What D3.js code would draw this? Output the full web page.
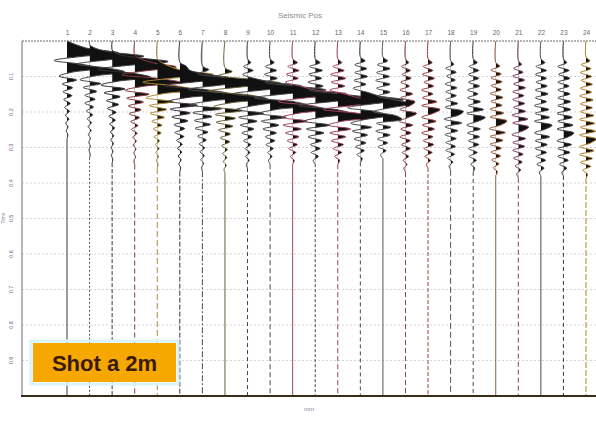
<!DOCTYPE html>
<html>
<head>
<meta charset="utf-8">
<script src="https://cdn.jsdelivr.net/npm/d3@7"></script>
<style>
  html, body { margin: 0; background: #fff; }
  svg { display: block; }
</style>
</head>
<body>
<div id="chart"></div>
<script>
// ---- data ----
const traceLabels = ['1','2','3','4','5','6','7','8','9','10','11','12','13','14','15','16','17','18','19','20','21','22','23','24'];
const timeTicks = [0.1, 0.2, 0.3, 0.4, 0.5, 0.6, 0.7, 0.8, 0.9];
const timeLabels = ['0.1','0.2','0.3','0.4','0.5','0.6','0.7','0.8','0.9'];
const DT = 0.011; // seconds between samples

// onset time (s) for each trace
const onsets = [0.0, 0.01, 0.025, 0.04, 0.05, 0.06, 0.07, 0.075, 0.05, 0.05, 0.05, 0.05,
  0.05, 0.045, 0.045, 0.05, 0.05, 0.055, 0.05, 0.06, 0.055, 0.05, 0.05, 0.045];

// amplitude samples per trace (units of ~16 px)
const traces = [
  [0, 0.6, 1.4, 3.2, 0.8, -0.8, 1.0, 1.9, 0.3, -0.5, 0.6, -0.3, 0.35, -0.25, 0.3, -0.2, 0.2, -0.15, 0.15, -0.1, 0.12, -0.08, 0.06, -0.05, 0.05, 0],
  [0, 0.4, 1.5, 3.4, 1.0, -0.8, 1.1, 2.2, 0.4, -0.6, 0.7, -0.4, 0.45, -0.3, 0.35, -0.3, 0.25, -0.2, 0.2, -0.15, 0.12, -0.1, 0.1, -0.08, 0.06, -0.05, 0.05, -0.04, 0.04, 0],
  [0, 0.3, 1.6, 3.5, 0.9, -0.9, 1.3, 2.4, 0.4, -0.7, 0.8, -0.5, 0.5, -0.35, 0.4, -0.3, 0.25, -0.2, 0.2, -0.15, 0.15, -0.1, 0.1, -0.08, 0.08, -0.06, 0.05, -0.05, 0.04, 0],
  [0, 0.4, 1.2, 2.6, 0.7, -0.8, 1.6, 2.9, 0.5, -0.6, 0.9, -0.5, 0.55, -0.4, 0.4, -0.35, 0.3, -0.25, 0.2, -0.2, 0.15, -0.12, 0.1, -0.1, 0.08, -0.06, 0.06, -0.05, 0],
  [0, 0.3, 0.8, 1.6, 3.5, 0.9, -0.9, 1.3, 2.3, 0.3, -0.7, 1.0, -0.5, 0.6, -0.45, 0.45, -0.35, 0.3, -0.25, 0.25, -0.2, 0.15, -0.12, 0.12, -0.1, 0.08, -0.06, 0.05, 0],
  [0, 0.4, 0.6, 1.6, 3.1, 1.0, -1.0, 1.6, 3.0, 0.5, -0.7, 1.1, -0.6, 0.65, -0.5, 0.5, -0.35, 0.3, -0.3, 0.25, -0.2, 0.15, -0.15, 0.12, -0.1, 0.08, -0.06, 0.05, 0],
  [0, 0.4, -0.3, 1.4, 2.8, 1.0, -0.9, 1.5, 2.6, 0.5, -0.8, 1.2, -0.6, 0.6, -0.5, 0.5, -0.45, 0.35, -0.3, 0.25, -0.2, 0.15, -0.15, 0.12, -0.1, 0.08, -0.06, 0],
  [0, 0.45, -0.4, 1.7, 3.5, 0.9, -1.0, 1.5, 2.6, 0.4, -0.7, 1.1, -0.6, 0.65, -0.55, 0.5, -0.4, 0.35, -0.3, 0.3, -0.2, 0.15, -0.15, 0.12, -0.1, 0.08, -0.06, 0],
  [0, 0.2, -0.25, 0.35, -0.3, 0.4, 1.5, 3.4, 1.0, -0.9, 1.0, 1.6, 0.4, -0.7, 1.0, -0.55, 0.6, -0.45, 0.4, -0.35, 0.3, -0.25, 0.2, -0.15, 0.15, -0.12, 0.1, -0.08, 0],
  [0, 0.25, -0.3, 0.4, -0.35, 0.45, -0.3, 1.6, 3.5, 1.0, -1.0, 1.5, 2.4, 0.4, -0.7, 1.0, -0.55, 0.55, -0.45, 0.4, -0.3, 0.3, -0.25, 0.2, -0.15, 0.12, -0.1, 0],
  [0, 0.3, -0.3, 0.4, -0.4, 0.35, -0.45, 0.45, 1.4, 3.4, 0.9, -0.9, 1.2, 2.0, 0.3, -0.7, 0.9, -0.6, 0.55, -0.45, 0.4, -0.35, 0.3, -0.25, 0.2, -0.15, 0.1, 0],
  [0, 0.3, -0.35, 0.45, -0.4, 0.4, -0.45, 0.5, -0.4, 1.5, 3.3, 1.0, -1.0, 1.3, 2.2, 0.4, -0.7, 0.9, -0.55, 0.55, -0.45, 0.4, -0.3, 0.3, -0.25, 0.2, -0.12, 0],
  [0, 0.25, -0.3, 0.4, -0.45, 0.5, -0.4, 0.45, -0.5, 0.4, 1.3, 2.8, 0.9, -0.9, 1.3, 2.4, 0.3, -0.6, 0.8, -0.5, 0.5, -0.4, 0.35, -0.3, 0.25, -0.2, 0.12, 0],
  [0, 0.3, -0.35, 0.4, -0.35, 0.45, -0.4, 0.35, -0.45, 0.4, 1.2, 2.7, 0.8, -0.8, 1.0, 1.7, 0.3, -0.6, 0.7, -0.5, 0.45, -0.4, 0.35, -0.3, 0.25, -0.2, 0.12, 0],
  [0, 0.3, -0.35, 0.45, -0.4, 0.4, -0.45, 0.45, -0.4, 0.45, -0.35, 0.8, 1.8, 0.5, -0.6, 0.8, 1.2, -0.4, 0.5, -0.45, 0.45, -0.35, 0.3, -0.3, 0.2, -0.15, 0],
  [0, 0.2, -0.25, 0.3, -0.2, 0.35, -0.3, 0.25, -0.35, 0.45, -0.3, 0.6, 0.3, -0.35, 0.7, 0.2, -0.4, 0.45, -0.3, 0.35, -0.35, 0.3, -0.25, 0.3, -0.2, 0.2, -0.15, 0.1, -0.1, 0],
  [0, 0.25, -0.3, 0.3, -0.35, 0.4, -0.25, 0.35, -0.4, 0.3, -0.35, 0.55, -0.4, 0.75, 0.3, -0.4, 0.5, -0.35, 0.4, -0.4, 0.3, -0.3, 0.35, -0.25, 0.25, -0.2, 0.15, -0.1, 0],
  [0, 0.2, -0.3, 0.35, -0.25, 0.3, -0.35, 0.4, -0.3, 0.35, -0.3, 0.45, -0.35, 0.8, 0.5, -0.4, 0.7, -0.35, 0.45, -0.35, 0.35, -0.3, 0.3, -0.3, 0.25, -0.2, 0.15, -0.1, 0],
  [0, 0.25, -0.25, 0.35, -0.3, 0.35, -0.3, 0.4, -0.35, 0.3, -0.35, 0.45, -0.3, 0.65, -0.4, 0.75, 0.3, -0.4, 0.45, -0.35, 0.4, -0.3, 0.35, -0.3, 0.25, -0.25, 0.2, -0.15, 0.1, 0],
  [0, 0.25, -0.3, 0.35, -0.3, 0.4, -0.3, 0.35, -0.35, 0.45, -0.3, 0.4, -0.35, 0.5, -0.35, 0.7, 0.35, -0.4, 0.6, -0.35, 0.45, -0.35, 0.35, -0.3, 0.3, -0.25, 0.2, -0.15, 0.1, 0],
  [0, 0.2, -0.3, 0.3, -0.35, 0.4, -0.3, 0.45, -0.35, 0.35, -0.35, 0.4, -0.3, 0.45, -0.4, 0.6, -0.35, 0.65, 0.3, -0.4, 0.45, -0.35, 0.4, -0.35, 0.3, -0.3, 0.25, -0.2, 0.15, -0.1, 0],
  [0, 0.25, -0.3, 0.35, -0.35, 0.35, -0.3, 0.4, -0.35, 0.45, -0.35, 0.35, -0.4, 0.5, -0.35, 0.55, -0.4, 0.7, 0.3, -0.4, 0.55, -0.35, 0.4, -0.35, 0.35, -0.3, 0.3, -0.25, 0.2, -0.1, 0],
  [0, 0.2, -0.35, 0.35, -0.3, 0.4, -0.35, 0.35, -0.35, 0.4, -0.35, 0.45, -0.35, 0.45, -0.4, 0.55, -0.35, 0.6, -0.4, 0.65, 0.3, -0.4, 0.5, -0.35, 0.4, -0.35, 0.3, -0.25, 0.2, -0.1, 0],
  [0, 0.25, -0.3, 0.3, -0.35, 0.35, -0.3, 0.4, -0.35, 0.35, -0.4, 0.45, -0.35, 0.4, -0.35, 0.5, -0.4, 0.55, -0.35, 0.6, -0.4, 0.65, 0.3, -0.4, 0.5, -0.4, 0.4, -0.35, 0.3, -0.2, 0.1, 0]
];

const traceColors = ['#3a3a3a', '#4a4a4a', '#333333', '#8a3a3a', '#b08a30', '#3a3040', '#4a4a4a', '#6a6030',
  '#444444', '#4a4a4a', '#a04a60', '#444444', '#a04060', '#4a4a4a', '#555555', '#8a4040',
  '#9a3a3a', '#555555', '#4a4a4a', '#9a5a3a', '#7a4060', '#4a4a4a', '#3a3a3a', '#b0802a'];
const tailDash = ['none', '2,2', '4,2', '5,3', '6,3', '5,2', '6,2,2,2', 'none', '4,3', '5,3', 'none', '3,2',
  '5,3', '4,3', 'none', '5,3', '4,2', '6,3', '4,3', 'none', '5,3', 'none', '4,3', '6,2'];

// ---- layout ----
const W = 596, H = 423;
const PLOT = { left: 22, right: 596, top: 41, bottom: 396 };

const svg = d3.select('#chart').append('svg')
  .attr('width', W).attr('height', H)
  .style('font-family', 'Liberation Sans, Arial, sans-serif');

const xTrace = d3.scaleLinear().domain([1, 24]).range([67, 586]);
const yTime = d3.scaleLinear().domain([0, 1]).range([PLOT.top, PLOT.bottom]);
const amp = d3.scaleLinear().domain([0, 1]).range([0, 16]);

// gridlines
svg.append('g').selectAll('line').data(timeTicks).join('line')
  .attr('x1', PLOT.left).attr('x2', PLOT.right)
  .attr('y1', d => yTime(d)).attr('y2', d => yTime(d))
  .attr('stroke', (d, i) => i % 3 === 1 ? '#ddd0dd' : '#d2d4da')
  .attr('stroke-width', 1)
  .attr('stroke-dasharray', '2,2');

// clip paths: keep positive lobes only
const defs = svg.append('defs');
defs.selectAll('clipPath').data(traces).join('clipPath')
  .attr('id', (d, i) => `clip-${i}`)
  .append('rect')
  .attr('x', (d, i) => xTrace(i + 1)).attr('y', PLOT.top)
  .attr('width', (d, i) => PLOT.right - xTrace(i + 1))
  .attr('height', PLOT.bottom - PLOT.top);

const curve = d3.curveCatmullRom.alpha(0.5);
const gTraces = svg.append('g');

traces.forEach((amps, i) => {
  const x0 = xTrace(i + 1);
  const pts = [[0, 0]].concat(amps.map((a, k) => [onsets[i] + k * DT, a]));
  const tEnd = pts[pts.length - 1][0];

  const area = d3.area()
    .y(d => yTime(d[0]))
    .x0(x0)
    .x1(d => x0 + amp(d[1]))
    .curve(curve);
  const line = d3.line()
    .y(d => yTime(d[0]))
    .x(d => x0 + amp(d[1]))
    .curve(curve);

  const g = gTraces.append('g');
  g.append('path').datum(pts)
    .attr('d', area)
    .attr('fill', '#111')
    .attr('clip-path', `url(#clip-${i})`);
  g.append('path').datum(pts)
    .attr('d', line)
    .attr('fill', 'none')
    .attr('stroke', traceColors[i])
    .attr('stroke-width', 1);
  g.append('line')
    .attr('x1', x0).attr('x2', x0)
    .attr('y1', yTime(tEnd)).attr('y2', yTime(1))
    .attr('stroke', traceColors[i])
    .attr('stroke-width', 1)
    .attr('stroke-dasharray', tailDash[i]);
});

// frame
svg.append('line')
  .attr('x1', PLOT.left).attr('x2', PLOT.right)
  .attr('y1', PLOT.top).attr('y2', PLOT.top)
  .attr('stroke', '#6a6a6a').attr('stroke-width', 1.2)
  .attr('stroke-dasharray', '2,1');
svg.append('line')
  .attr('x1', PLOT.left).attr('x2', PLOT.left)
  .attr('y1', PLOT.top).attr('y2', PLOT.bottom)
  .attr('stroke', '#8a8090').attr('stroke-width', 1.2);
svg.append('line')
  .attr('x1', PLOT.left - 1).attr('x2', PLOT.right)
  .attr('y1', PLOT.bottom).attr('y2', PLOT.bottom)
  .attr('stroke', '#3a2a1a').attr('stroke-width', 2.2);

// trace labels along the top
const topAxis = d3.axisTop(xTrace).tickValues(d3.range(1, 25)).tickSize(0).tickPadding(0)
  .tickFormat((d, i) => traceLabels[i]);
svg.append('g')
  .attr('transform', `translate(0, 35)`)
  .call(topAxis)
  .call(g => g.select('.domain').remove())
  .call(g => g.selectAll('text').attr('fill', '#666').attr('font-size', 6.5)
    .style('font-family', 'Liberation Sans, Arial, sans-serif'));

// time labels (rotated)
svg.append('g').selectAll('text').data(timeTicks).join('text')
  .attr('transform', d => `translate(11, ${yTime(d)}) rotate(-90)`)
  .attr('text-anchor', 'middle')
  .attr('dy', '0.35em')
  .attr('font-size', 5.5)
  .attr('fill', '#7a5a8a')
  .text((d, i) => timeLabels[i]);

svg.append('text')
  .attr('x', 17).attr('y', 36)
  .attr('font-size', 5).attr('fill', '#999')
  .text('.');

// titles
svg.append('text')
  .attr('x', 300).attr('y', 18)
  .attr('text-anchor', 'middle')
  .attr('font-size', 8).attr('fill', '#8a8a8a')
  .text('Seismic Pos');
svg.append('text')
  .attr('x', 309).attr('y', 411)
  .attr('text-anchor', 'middle')
  .attr('font-size', 6).attr('fill', '#8a80a0')
  .text('mm');
svg.append('text')
  .attr('transform', 'translate(5, 218) rotate(-90)')
  .attr('text-anchor', 'middle')
  .attr('font-size', 5).attr('fill', '#8a8a9a')
  .text('Time');

// shot label
const box = svg.append('g');
box.append('rect')
  .attr('x', 31).attr('y', 341).attr('width', 147).attr('height', 43)
  .attr('fill', 'none').attr('stroke', '#d8f4fb').attr('stroke-width', 3);
box.append('rect')
  .attr('x', 33).attr('y', 343).attr('width', 143).attr('height', 39)
  .attr('fill', '#f6a700');
box.append('text')
  .attr('x', 104.5).attr('y', 371)
  .attr('text-anchor', 'middle')
  .attr('font-size', 22).attr('font-weight', 'bold')
  .attr('fill', '#3a1a0c')
  .text('Shot a 2m');
</script>
</body>
</html>
